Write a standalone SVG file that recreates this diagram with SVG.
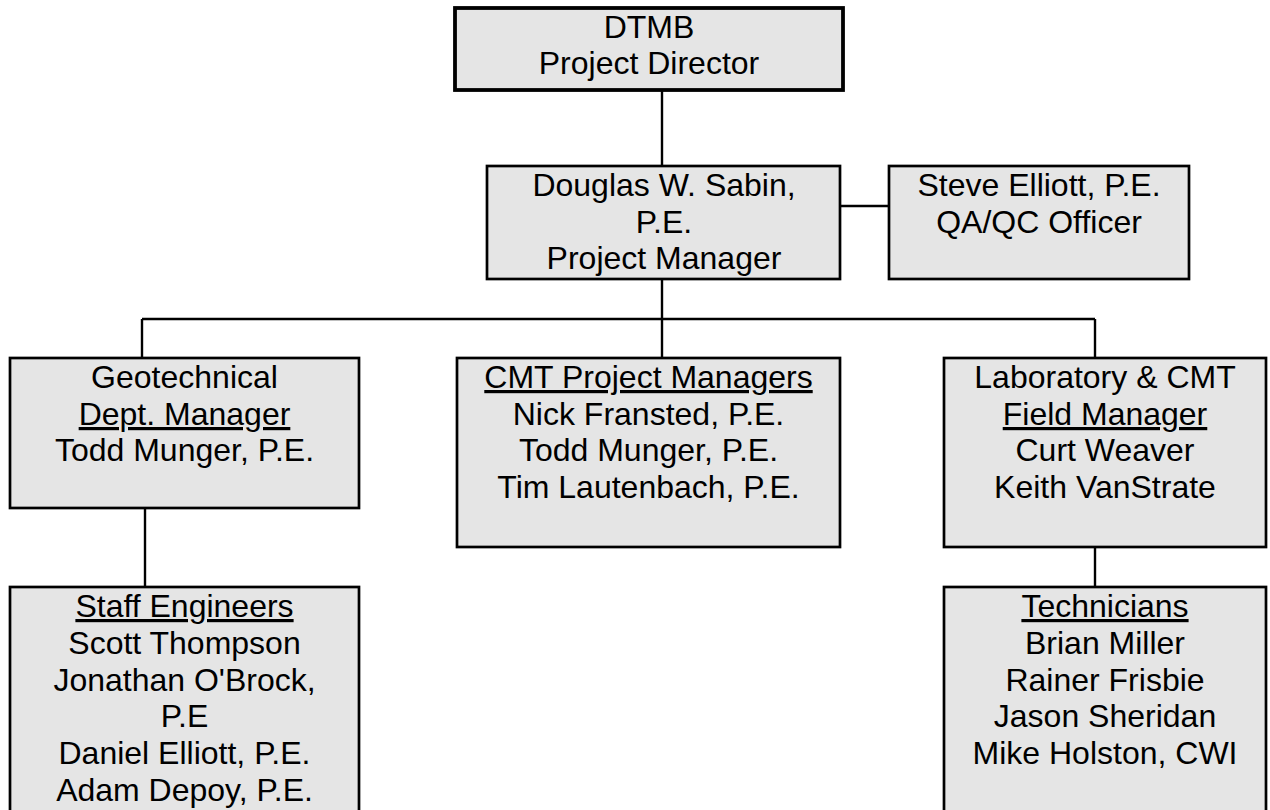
<svg xmlns="http://www.w3.org/2000/svg" width="1270" height="810" viewBox="0 0 1270 810">
<style>
.box{fill:#e5e5e5;stroke:#000;stroke-width:2.7}
.top{stroke-width:3.8}
.conn{stroke:#000;stroke-width:2.4;fill:none}
text{font-family:"Liberation Sans",Arial,sans-serif;font-size:32px;fill:#000;text-anchor:middle}
.u{text-decoration:underline}
</style>
<rect x="0" y="0" width="1270" height="810" fill="#fff"/>
<g id="connectors">
<line class="conn" x1="662" y1="90" x2="662" y2="166"/>
<line class="conn" x1="840" y1="206" x2="889" y2="206"/>
<line class="conn" x1="662" y1="279" x2="662" y2="358"/>
<line class="conn" x1="142" y1="319" x2="1095" y2="319"/>
<line class="conn" x1="142" y1="319" x2="142" y2="358"/>
<line class="conn" x1="1095" y1="319" x2="1095" y2="358"/>
<line class="conn" x1="145" y1="508" x2="145" y2="587"/>
<line class="conn" x1="1095" y1="547" x2="1095" y2="587"/>
</g>
<g id="dtmb">
<rect class="box top" x="455" y="8" width="388" height="82"/>
<text x="649" y="37.5">DTMB</text>
<text x="649" y="74">Project Director</text>
</g>
<g id="pm">
<rect class="box" x="487" y="166" width="353" height="113"/>
<text x="664" y="196">Douglas W. Sabin,</text>
<text x="664" y="233">P.E.</text>
<text x="664" y="269">Project Manager</text>
</g>
<g id="qaqc">
<rect class="box" x="889" y="166" width="300" height="113"/>
<text x="1039" y="196">Steve Elliott, P.E.</text>
<text x="1039" y="233">QA/QC Officer</text>
</g>
<g id="geo">
<rect class="box" x="10" y="358" width="349" height="150"/>
<text x="184.5" y="388">Geotechnical</text>
<text x="184.5" y="425" class="u">Dept. Manager</text>
<text x="184.5" y="461">Todd Munger, P.E.</text>
</g>
<g id="cmt">
<rect class="box" x="457" y="358" width="383" height="189"/>
<text x="648.5" y="388" class="u">CMT Project Managers</text>
<text x="648.5" y="425">Nick Fransted, P.E.</text>
<text x="648.5" y="461">Todd Munger, P.E.</text>
<text x="648.5" y="498">Tim Lautenbach, P.E.</text>
</g>
<g id="lab">
<rect class="box" x="944" y="358" width="322" height="189"/>
<text x="1105" y="388">Laboratory &amp; CMT</text>
<text x="1105" y="425" class="u">Field Manager</text>
<text x="1105" y="461">Curt Weaver</text>
<text x="1105" y="498">Keith VanStrate</text>
</g>
<g id="staff">
<rect class="box" x="10" y="587" width="349" height="240"/>
<text x="184.5" y="617" class="u">Staff Engineers</text>
<text x="184.5" y="654">Scott Thompson</text>
<text x="184.5" y="691">Jonathan O'Brock,</text>
<text x="184.5" y="727">P.E</text>
<text x="184.5" y="764">Daniel Elliott, P.E.</text>
<text x="184.5" y="801">Adam Depoy, P.E.</text>
</g>
<g id="tech">
<rect class="box" x="944" y="587" width="322" height="240"/>
<text x="1105" y="617" class="u">Technicians</text>
<text x="1105" y="654">Brian Miller</text>
<text x="1105" y="691">Rainer Frisbie</text>
<text x="1105" y="727">Jason Sheridan</text>
<text x="1105" y="764">Mike Holston, CWI</text>
</g>
</svg>
